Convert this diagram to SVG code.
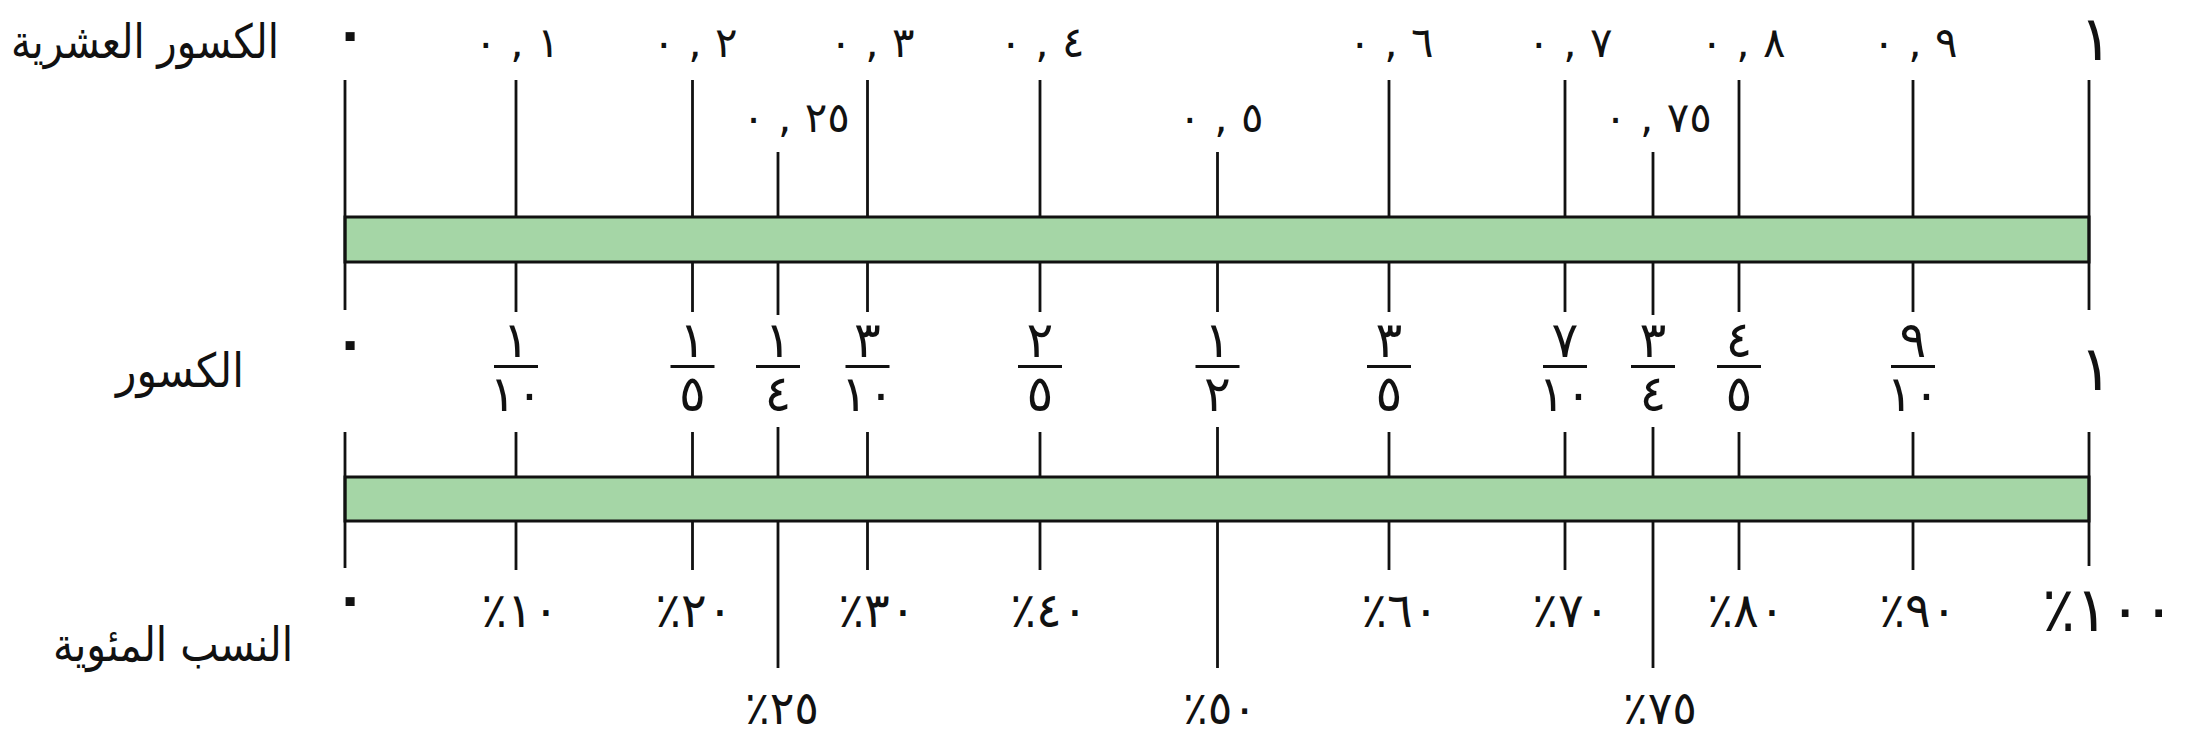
<svg xmlns="http://www.w3.org/2000/svg" width="2187" height="739" viewBox="0 0 2187 739">
<style>
text{font-family:"DejaVu Sans",sans-serif;fill:#111;}
.lbl{font-size:47px;text-anchor:middle;}
.num{direction:ltr;unicode-bidi:bidi-override;text-anchor:middle;}
.dec{font-size:42px;}
.zero{font-size:52px;font-weight:bold;}
.fr{font-size:50px;}
.pct{font-size:48px;}
.pct2{font-size:46px;}
.big{font-size:62px;}
.tick{stroke:#111;stroke-width:2.8;fill:none;}
.fbar{stroke:#111;stroke-width:3;}
.bar{fill:#a5d6a6;stroke:#111;stroke-width:3;}
</style>
<rect width="2187" height="739" fill="#fff"/>
<g id="row-labels">
<text class="lbl" x="145" y="58" textLength="268" lengthAdjust="spacingAndGlyphs">الكسور العشرية</text>
<text class="lbl" x="180" y="387" textLength="128" lengthAdjust="spacingAndGlyphs">الكسور</text>
<text class="lbl" x="173" y="661" textLength="240" lengthAdjust="spacingAndGlyphs">النسب المئوية</text>
</g>
<g id="bars">
<rect class="bar" x="345" y="217" width="1744" height="45"/>
<rect class="bar" x="345" y="477" width="1744" height="44"/>
</g>
<g id="connectors">
<path class="tick" d="M345 80V310M516 80V217M692.5 80V217M867.5 80V217M1040 80V217M1389 80V217M1565 80V217M1739 80V217M1913 80V217M2089 80V310M778 152V217M1217.5 152V217M1653 152V217"/>
<path class="tick" d="M516 262V312M692.5 262V312M778 262V315M867.5 262V312M1040 262V312M1217.5 262V312M1389 262V312M1565 262V312M1653 262V315M1739 262V312M1913 262V312"/>
<path class="tick" d="M345 432V568M516 432V477M692.5 432V477M778 427V477M867.5 432V477M1040 432V477M1217.5 427V477M1389 432V477M1565 432V477M1653 427V477M1739 432V477M1913 432V477M2089 432V566"/>
<path class="tick" d="M516 521V570M692.5 521V570M867.5 521V570M1040 521V570M1389 521V570M1565 521V570M1739 521V570M1913 521V570M778 521V668M1217.5 521V668M1653 521V668"/>
</g>
<g id="decimals">
<text class="num zero" x="350" y="51">٠</text>
<text class="num dec" x="517" y="57">٠ , ١</text>
<text class="num dec" x="695" y="57">٠ , ٢</text>
<text class="num dec" x="872" y="57">٠ , ٣</text>
<text class="num dec" x="1042" y="57">٠ , ٤</text>
<text class="num dec" x="1391" y="57">٠ , ٦</text>
<text class="num dec" x="1570" y="57">٠ , ٧</text>
<text class="num dec" x="1743" y="57">٠ , ٨</text>
<text class="num dec" x="1915" y="57">٠ , ٩</text>
<text class="num big" x="2096" y="60">١</text>
<text class="num dec" x="796" y="132">٠ , ٢٥</text>
<text class="num dec" x="1221" y="132">٠ , ٥</text>
<text class="num dec" x="1658" y="132">٠ , ٧٥</text>
</g>
<g id="fractions">
<text class="num zero" x="350" y="360">٠</text>
<g id="f-1-10"><text class="num fr" x="516" y="357">١</text><line class="fbar" x1="494" y1="366.5" x2="538" y2="366.5"/><text class="num fr" x="516" y="411">١٠</text></g>
<g id="f-1-5"><text class="num fr" x="692.5" y="357">١</text><line class="fbar" x1="670.5" y1="366.5" x2="714.5" y2="366.5"/><text class="num fr" x="692.5" y="411">٥</text></g>
<g id="f-1-4"><text class="num fr" x="778" y="357">١</text><line class="fbar" x1="756" y1="366.5" x2="800" y2="366.5"/><text class="num fr" x="778" y="411">٤</text></g>
<g id="f-3-10"><text class="num fr" x="867.5" y="357">٣</text><line class="fbar" x1="845.5" y1="366.5" x2="889.5" y2="366.5"/><text class="num fr" x="867.5" y="411">١٠</text></g>
<g id="f-2-5"><text class="num fr" x="1040" y="357">٢</text><line class="fbar" x1="1018" y1="366.5" x2="1062" y2="366.5"/><text class="num fr" x="1040" y="411">٥</text></g>
<g id="f-1-2"><text class="num fr" x="1217.5" y="357">١</text><line class="fbar" x1="1195.5" y1="366.5" x2="1239.5" y2="366.5"/><text class="num fr" x="1217.5" y="411">٢</text></g>
<g id="f-3-5"><text class="num fr" x="1389" y="357">٣</text><line class="fbar" x1="1367" y1="366.5" x2="1411" y2="366.5"/><text class="num fr" x="1389" y="411">٥</text></g>
<g id="f-7-10"><text class="num fr" x="1565" y="357">٧</text><line class="fbar" x1="1543" y1="366.5" x2="1587" y2="366.5"/><text class="num fr" x="1565" y="411">١٠</text></g>
<g id="f-3-4"><text class="num fr" x="1653" y="357">٣</text><line class="fbar" x1="1631" y1="366.5" x2="1675" y2="366.5"/><text class="num fr" x="1653" y="411">٤</text></g>
<g id="f-4-5"><text class="num fr" x="1739" y="357">٤</text><line class="fbar" x1="1717" y1="366.5" x2="1761" y2="366.5"/><text class="num fr" x="1739" y="411">٥</text></g>
<g id="f-9-10"><text class="num fr" x="1913" y="357">٩</text><line class="fbar" x1="1891" y1="366.5" x2="1935" y2="366.5"/><text class="num fr" x="1913" y="411">١٠</text></g>
<text class="num big" x="2096" y="390">١</text>
</g>
<g id="percents">
<text class="num zero" x="350" y="616">٠</text>
<text class="num pct" x="520" y="627">٪١٠</text>
<text class="num pct" x="694" y="627">٪٢٠</text>
<text class="num pct" x="877" y="627">٪٣٠</text>
<text class="num pct" x="1049" y="627">٪٤٠</text>
<text class="num pct" x="1400" y="627">٪٦٠</text>
<text class="num pct" x="1571" y="627">٪٧٠</text>
<text class="num pct" x="1746" y="627">٪٨٠</text>
<text class="num pct" x="1918" y="627">٪٩٠</text>
<text class="num big" x="2042" y="631" style="text-anchor:start">٪١٠٠</text>
<text class="num pct2" x="782" y="724">٪٢٥</text>
<text class="num pct2" x="1220" y="724">٪٥٠</text>
<text class="num pct2" x="1660" y="724">٪٧٥</text>
</g>
</svg>
